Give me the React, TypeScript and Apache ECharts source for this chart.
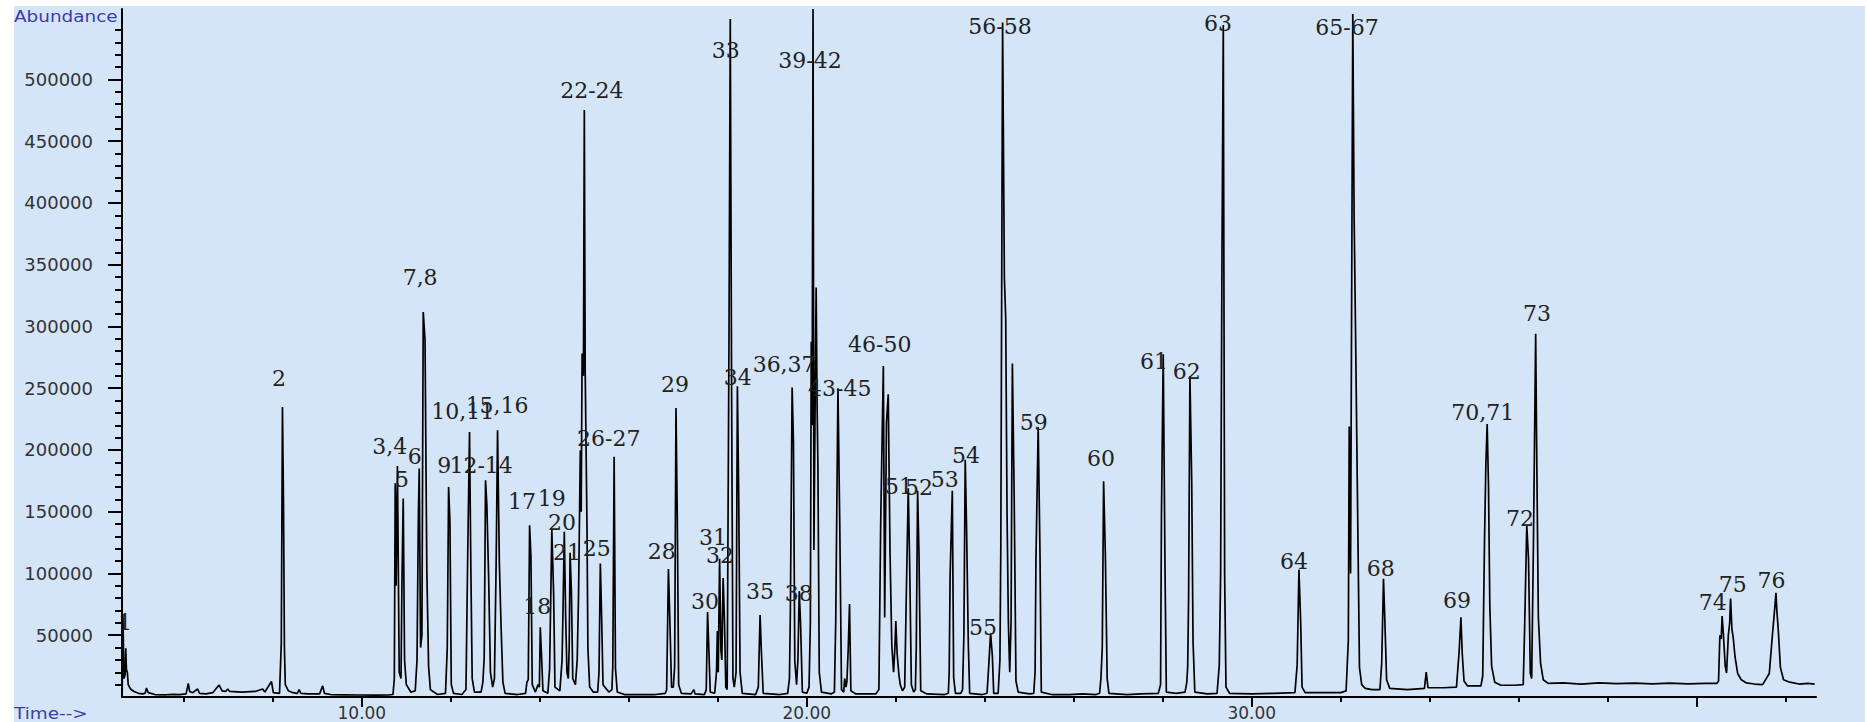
import React, { useEffect, useRef } from "react";
import * as echarts from "echarts";

// Chromatogram trace: [retention time (min), abundance]
const trace: [number, number][] = [
  [4.615, 5000], [4.63, 66300], [4.655, 15000], [4.68, 18000], [4.695, 39400], [4.71, 22000],
  [4.73, 20000], [4.75, 10000], [4.8, 6500], [4.88, 4500], [4.98, 3000], [5.08, 2500],
  [5.13, 3000], [5.16, 7300], [5.2, 3500], [5.35, 2000], [5.6, 1800], [5.75, 2200], [5.9, 2000],
  [6.05, 2500], [6.1, 11000], [6.13, 4500], [6.2, 3500], [6.31, 6500], [6.35, 3000], [6.5, 2500],
  [6.65, 3500], [6.79, 9700], [6.86, 5000], [6.94, 4500], [6.985, 6500], [7.03, 4500], [7.3, 4000],
  [7.6, 4500], [7.77, 6500], [7.82, 4000], [7.97, 12500], [8.01, 3500], [8.15, 3000], [8.19, 44000],
  [8.216, 234800], [8.24, 154500], [8.26, 40000], [8.28, 10000], [8.35, 5000], [8.45, 3500],
  [8.55, 3000], [8.59, 6000], [8.63, 3000], [8.8, 2500], [9.05, 2500], [9.12, 9000], [9.16, 3000],
  [9.3, 2000], [9.6, 1800], [9.9, 1600], [10.3, 1500], [10.6, 1600], [10.7, 2000],
  [10.73, 15000], [10.75, 173000], [10.77, 90000], [10.8, 187000], [10.84, 20000], [10.88, 15000],
  [10.9, 88000], [10.93, 160700], [10.96, 30000], [11.0, 10000], [11.1, 4000], [11.2, 5000],
  [11.24, 30000], [11.27, 146000], [11.29, 185000], [11.32, 40000], [11.35, 50000], [11.38, 311700],
  [11.42, 288800], [11.46, 104000], [11.5, 25000], [11.54, 6000], [11.7, 2000], [11.88, 3000],
  [11.92, 40000], [11.95, 170100], [11.98, 141000], [12.01, 10000], [12.06, 3000], [12.25, 2000],
  [12.34, 6000], [12.38, 117000], [12.42, 214600], [12.45, 104000], [12.48, 15000], [12.53, 4000],
  [12.68, 4000], [12.72, 12000], [12.75, 32000], [12.78, 175500], [12.81, 155000], [12.85, 96000],
  [12.89, 20000], [12.94, 8000], [12.98, 15000], [13.02, 113000], [13.05, 216000], [13.09, 109000],
  [13.13, 56000], [13.17, 12000], [13.22, 3000], [13.5, 2000], [13.68, 3000], [13.71, 12000],
  [13.74, 14000], [13.77, 139100], [13.8, 114000], [13.83, 10000], [13.9, 4000], [13.96, 10000],
  [13.99, 8000], [14.01, 56400], [14.04, 32000], [14.07, 5000], [14.18, 3000], [14.22, 23000],
  [14.27, 135100], [14.31, 84000], [14.34, 8000], [14.45, 5000], [14.5, 30000], [14.52, 68000],
  [14.55, 133700], [14.58, 66000], [14.61, 20000], [14.64, 15000], [14.66, 40000], [14.68, 116700],
  [14.71, 85000], [14.74, 15000], [14.8, 10000], [14.84, 30000], [14.87, 82000], [14.91, 199800],
  [14.93, 150000], [14.95, 278000], [14.98, 260000], [15.0, 475300], [15.02, 263000], [15.04, 200000],
  [15.06, 137800], [15.08, 40000], [15.12, 8000], [15.2, 4000], [15.3, 4000], [15.33, 20000],
  [15.36, 108100], [15.39, 63000], [15.42, 10000], [15.55, 4000], [15.62, 6000], [15.64, 25000],
  [15.67, 194400], [15.7, 23000], [15.74, 4000], [15.9, 2000], [16.3, 2000], [16.6, 2000],
  [16.82, 3000], [16.85, 6000], [16.89, 103600], [16.92, 65000], [16.96, 8000], [17.0, 8000],
  [17.03, 25000], [17.06, 234000], [17.09, 143300], [17.12, 10000], [17.18, 3000], [17.4, 2500],
  [17.46, 6000], [17.49, 2500], [17.7, 2000], [17.74, 6000], [17.77, 68800], [17.8, 36800],
  [17.83, 4000], [17.93, 3000], [17.97, 20000], [17.99, 53400], [18.01, 20000], [18.04, 112000],
  [18.07, 38000], [18.09, 30000], [18.12, 96300], [18.15, 61000], [18.18, 8000], [18.21, 6000],
  [18.25, 281000], [18.28, 549000], [18.31, 248000], [18.34, 15000], [18.37, 8000], [18.41, 20000],
  [18.44, 251600], [18.47, 161800], [18.5, 20000], [18.55, 3000], [18.85, 2000], [18.91, 8000],
  [18.95, 66300], [18.98, 36000], [19.02, 3000], [19.4, 2000], [19.57, 3000], [19.61, 15000],
  [19.63, 67000], [19.67, 250600], [19.7, 205700], [19.73, 29000], [19.77, 10000], [19.8, 30000],
  [19.83, 85700], [19.86, 59000], [19.9, 4000], [20.0, 3000], [20.05, 8000], [20.08, 60000],
  [20.1, 287700], [20.12, 220000], [20.14, 557000], [20.16, 119000], [20.19, 250000], [20.21, 331500],
  [20.23, 240000], [20.25, 185600], [20.28, 20000], [20.33, 4000], [20.55, 2500], [20.62, 4000],
  [20.65, 60700], [20.7, 250000], [20.74, 141500], [20.78, 6000], [20.83, 4000], [20.85, 15000],
  [20.88, 8000], [20.9, 12000], [20.93, 38000], [20.96, 75300], [20.99, 5000], [21.1, 2500],
  [21.55, 2500], [21.62, 6000], [21.66, 139600], [21.72, 268000], [21.75, 64400], [21.79, 222000],
  [21.83, 245000], [21.87, 117600], [21.91, 42000], [21.95, 20000], [21.98, 40000], [22.0, 61500],
  [22.03, 35000], [22.07, 18000], [22.1, 10000], [22.15, 5000], [22.2, 8000], [22.23, 69900],
  [22.28, 169000], [22.31, 110200], [22.35, 10000], [22.4, 4000], [22.44, 6000], [22.46, 40000],
  [22.49, 167000], [22.52, 117600], [22.56, 5000], [22.7, 2500], [23.1, 2000], [23.18, 3000],
  [23.2, 20000], [23.22, 97400], [23.27, 167000], [23.3, 16000], [23.34, 3000], [23.46, 3000],
  [23.5, 6000], [23.53, 50000], [23.56, 192000], [23.59, 137800], [23.63, 42300], [23.66, 3000],
  [23.95, 2000], [24.05, 3000], [24.08, 20000], [24.13, 51500], [24.17, 33000], [24.2, 3000],
  [24.3, 3000], [24.34, 30000], [24.36, 123100], [24.4, 546000], [24.44, 339000], [24.47, 306600],
  [24.5, 148800], [24.53, 60000], [24.56, 20000], [24.59, 60000], [24.62, 270000], [24.66, 163500],
  [24.7, 13000], [24.75, 4000], [25.0, 2500], [25.1, 3000], [25.13, 20000], [25.15, 112100],
  [25.2, 218600], [25.24, 117000], [25.27, 4000], [25.5, 2000], [25.9, 2000], [26.2, 2500],
  [26.5, 2000], [26.58, 3000], [26.61, 15000], [26.64, 40000], [26.67, 174600], [26.71, 114000],
  [26.75, 15000], [26.79, 3000], [27.2, 2000], [27.5, 2500], [27.9, 3000], [27.95, 10000],
  [27.97, 147000], [28.01, 277500], [28.05, 104800], [28.08, 4000], [28.3, 3000], [28.5, 4000],
  [28.54, 12000], [28.56, 25000], [28.58, 80000], [28.61, 259700], [28.65, 175000], [28.68, 45000],
  [28.72, 4000], [29.0, 2500], [29.22, 3000], [29.27, 26000], [29.3, 100000], [29.33, 356000],
  [29.36, 544000], [29.39, 99500], [29.42, 8000], [29.5, 3000], [30.0, 2500], [30.5, 3000],
  [30.97, 3500], [31.02, 26000], [31.06, 103100], [31.1, 59000], [31.13, 8000], [31.2, 3500],
  [31.6, 3500], [32.0, 3500], [32.12, 5000], [32.17, 46000], [32.19, 219000], [32.22, 100000],
  [32.27, 553000], [32.3, 389000], [32.33, 301700], [32.37, 178000], [32.42, 24000], [32.47, 10000],
  [32.55, 7000], [32.7, 6000], [32.88, 6000], [32.92, 27500], [32.96, 95800], [32.99, 62600],
  [33.03, 14000], [33.1, 7000], [33.5, 6000], [33.88, 7000], [33.92, 20200], [33.96, 7500],
  [34.3, 7500], [34.6, 8000], [34.66, 36800], [34.7, 64600], [34.73, 35000], [34.77, 13000],
  [34.85, 9000], [35.15, 9000], [35.19, 17000], [35.23, 125400], [35.26, 187000], [35.29, 221000],
  [35.32, 171000], [35.35, 73000], [35.39, 25000], [35.46, 12000], [35.6, 9500], [35.9, 9500],
  [36.1, 10000], [36.13, 52800], [36.18, 139000], [36.22, 110800], [36.26, 19000], [36.29, 15000],
  [36.33, 124300], [36.38, 294000], [36.4, 210600], [36.44, 65000], [36.49, 27500], [36.55, 14000],
  [36.66, 11000], [37.0, 11500], [37.4, 10500], [37.8, 11500], [38.2, 10800], [38.6, 11300],
  [39.0, 10600], [39.4, 11200], [39.8, 10700], [40.2, 11000], [40.45, 11000], [40.49, 13000],
  [40.52, 50000], [40.55, 47000], [40.57, 65500], [40.6, 50000], [40.64, 25000], [40.67, 19400],
  [40.71, 50000], [40.74, 60000], [40.76, 79800], [40.79, 55000], [40.82, 48000], [40.86, 32600],
  [40.92, 19000], [41.0, 14000], [41.11, 11500], [41.3, 10500], [41.48, 10000], [41.63, 19000],
  [41.7, 50000], [41.76, 75000], [41.78, 84400], [41.8, 70000], [41.83, 55600], [41.88, 24000],
  [41.95, 14000], [42.09, 12000], [42.3, 10500], [42.5, 11000], [42.65, 10500],
];

// Peak annotations (text and anchor in data coordinates)
const peakLabels = [
  "1", "2", "3,4", "5", "6", "7,8", "9", "12-14", "10,11", "15,16", "17", "18", "19", "20", "21",
  "22-24", "25", "26-27", "28", "29", "30", "31", "32", "33", "34", "35", "36,37", "38", "39-42",
  "43-45", "46-50", "51", "52", "53", "54", "55", "56-58", "59", "60", "61", "62", "63", "64",
  "65-67", "68", "69", "70,71", "72", "73", "74", "75", "76",
];
const labelTime = [
  4.68, 8.14, 10.63, 10.9, 11.19, 11.31, 11.85, 12.68, 12.27, 13.04, 13.6, 13.94, 14.27, 14.5, 14.61,
  15.17, 15.28, 15.55, 16.74, 17.04, 17.71, 17.89, 18.05, 18.18, 18.45, 18.95, 19.49, 19.82, 20.07,
  20.74, 21.64, 22.07, 22.52, 23.1, 23.58, 23.96, 24.34, 25.1, 26.61, 27.8, 28.54, 29.24, 30.95,
  32.14, 32.9, 34.61, 35.19, 36.03, 36.41, 40.36, 40.81, 41.68,
];
const labelAbundance = [
  60700, 257500, 203200, 175700, 195100, 340000, 187800, 187800, 231500, 236400, 157900, 72900,
  160300, 140900, 116600, 491400, 120600, 208900, 118200, 252600, 77700, 129500, 114200, 523800,
  258300, 85800, 268800, 83400, 515700, 250000, 285000, 170800, 170000, 175700, 195900, 55900,
  543200, 222600, 192700, 272000, 263900, 544900, 110100, 542400, 104400, 78500, 230700, 144900,
  310100, 76900, 90700, 94700,
];

// Axis ticks
const yTickValues = [50000, 100000, 150000, 200000, 250000, 300000, 350000, 400000, 450000, 500000];
const yMinorTickValues = Array.from({ length: 54 }, (_, i) => (i + 1) * 10000).filter((v) => v % 50000 !== 0);
const xTickValues = [10, 20, 30, 40];
const xLabelValues = [10, 20, 30];
const xMinorTickValues = [6, 8, 12, 14, 16, 18, 22, 24, 26, 28, 32, 34, 36, 38, 42];

const X_MIN = 4.61;
const X_MAX = 42.68;
const Y_MAX = 557000;

export default function App() {
  const ref = useRef<HTMLDivElement>(null);

  useEffect(() => {
    if (!ref.current) return;
    const chart = echarts.init(ref.current, undefined, { renderer: "svg" });
    const axisColor = "#000";
    const labelColor = "#333";
    const option: any = {
      animation: false,
      backgroundColor: "#ffffff",
      graphic: [
        {
          type: "rect",
          z: -10,
          silent: true,
          shape: { x: 14, y: 6, width: 1851, height: 716 },
          style: { fill: "#d5e5f8" },
        },
        {
          type: "text",
          x: 14,
          y: 8,
          scaleX: 1.15,
          silent: true,
          style: {
            text: "Abundance",
            fill: "#3c3caa",
            font: '16px "DejaVu Sans"',
            textVerticalAlign: "top",
          },
        },
        {
          type: "text",
          x: 14,
          y: 705,
          scaleX: 1.15,
          silent: true,
          style: {
            text: "Time-->",
            fill: "#3c3caa",
            font: '16px "DejaVu Sans"',
            textVerticalAlign: "top",
          },
        },
      ],
      grid: {
        left: 122,
        right: 51,
        top: 9,
        bottom: 25,
        containLabel: false,
        outerBoundsMode: "none",
        show: false,
      },
      xAxis: [
        {
          type: "value",
          min: X_MIN,
          max: X_MAX,
          position: "bottom",
          axisLine: { show: true, onZero: false, lineStyle: { color: axisColor, width: 2 } },
          axisTick: {
            show: true,
            customValues: xTickValues,
            length: 10,
            lineStyle: { color: axisColor, width: 2 },
          },
          axisLabel: {
            show: true,
            customValues: xLabelValues,
            formatter: (v: number) => Number(v).toFixed(2),
            margin: 7,
            color: labelColor,
            fontFamily: "DejaVu Sans",
            fontSize: 17,
            lineHeight: 17,
          },
          splitLine: { show: false },
        },
        {
          type: "value",
          min: X_MIN,
          max: X_MAX,
          position: "bottom",
          axisLine: { show: false, onZero: false },
          axisTick: {
            show: true,
            customValues: xMinorTickValues,
            length: 5,
            lineStyle: { color: axisColor, width: 2 },
          },
          axisLabel: { show: false },
          splitLine: { show: false },
        },
      ],
      yAxis: [
        {
          type: "value",
          min: 0,
          max: Y_MAX,
          position: "left",
          axisLine: { show: true, onZero: false, lineStyle: { color: axisColor, width: 2 } },
          axisTick: {
            show: true,
            customValues: yTickValues,
            length: 14,
            lineStyle: { color: axisColor, width: 2 },
          },
          axisLabel: {
            show: true,
            customValues: yTickValues,
            formatter: (v: number) => String(Math.round(Number(v))),
            margin: 29,
            color: labelColor,
            fontFamily: "DejaVu Sans",
            fontSize: 18,
          },
          splitLine: { show: false },
        },
        {
          type: "value",
          min: 0,
          max: Y_MAX,
          position: "left",
          axisLine: { show: false, onZero: false },
          axisTick: {
            show: true,
            customValues: yMinorTickValues,
            length: 7,
            lineStyle: { color: axisColor, width: 2 },
          },
          axisLabel: { show: false },
          splitLine: { show: false },
        },
      ],
      series: [
        {
          type: "line",
          xAxisIndex: 0,
          yAxisIndex: 0,
          data: trace,
          showSymbol: false,
          symbol: "none",
          clip: false,
          silent: true,
          lineStyle: { color: "#000", width: 1.7 },
          z: 3,
        },
        {
          type: "scatter",
          xAxisIndex: 0,
          yAxisIndex: 0,
          data: labelTime.map((t, i) => [t, labelAbundance[i], peakLabels[i]]),
          symbol: "circle",
          symbolSize: 2,
          itemStyle: { color: "rgba(0,0,0,0)" },
          silent: true,
          clip: false,
          z: 4,
          labelLayout: { hideOverlap: false },
          label: {
            show: true,
            position: "inside",
            formatter: (p: any) => p.value[2],
            fontFamily: "DejaVu Serif",
            fontSize: 22,
            color: "#222",
            opacity: 1,
          },
        },
      ],
    };
    chart.setOption(option);
    return () => chart.dispose();
  }, []);

  return (
    <div
      ref={ref}
      style={{ position: "absolute", left: 0, top: 0, width: 1867, height: 722 }}
    />
  );
}
